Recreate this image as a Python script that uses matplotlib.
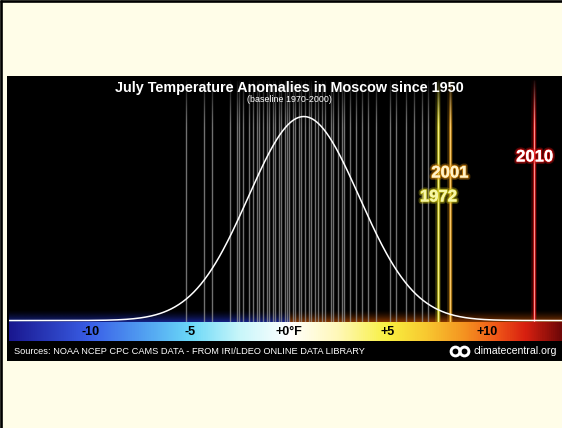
import numpy as np
import matplotlib
matplotlib.use('Agg')
import matplotlib.pyplot as plt
from matplotlib.colors import LinearSegmentedColormap, to_rgb
from matplotlib.patches import Rectangle, Circle
import matplotlib.patheffects as pe

plt.rcParams['font.family'] = ['Liberation Sans', 'DejaVu Sans']

# ---------------- data ----------------
title = "July Temperature Anomalies in Moscow since 1950"
subtitle = "(baseline 1970-2000)"
source = "Sources: NOAA NCEP CPC CAMS DATA - FROM IRI/LDEO ONLINE DATA LIBRARY"
credit = "climatecentral.org"

# yearly July anomalies (deg F), other years
anomalies = [-5.2, -4.3, -3.9, -3.0, -2.6, -2.5, -2.3, -2.0, -1.8, -1.6,
             -1.5, -1.3, -1.1, -1.0, -0.8, -0.7, -0.5, -0.4, -0.2, -0.1,
             0.0, 0.2, 0.3, 0.5, 0.6, 0.8, 1.0, 1.1, 1.3, 1.45,
             1.65, 1.8, 2.1, 2.2, 2.5, 2.7, 2.8, 3.1, 3.4, 3.7,
             4.0, 4.4, 5.1, 5.4, 5.9, 6.3, 6.7, 7.0]

highlight_years = ["1972", "2001", "2010"]
highlight_values = [7.55, 8.12, 12.4]
label_heights = [0.517, 0.616, 0.682]

tick_values = [-10, -5, 0, 5, 10]
tick_labels = ["-10", "-5", "+0°F", "+5", "+10"]

curve_mean = 0.75
curve_sd = 2.8
curve_peak = 0.843

# ---------------- figure ----------------
W, H = 562, 428
fig = plt.figure(figsize=(W / 100, H / 100), dpi=100, facecolor='#fffde8')

# black panel
fig.patches.append(Rectangle((7 / W, 1 - 361 / H), 555 / W, 285 / H,
                             transform=fig.transFigure, facecolor='black',
                             edgecolor='none', zorder=-1))

xmin, xmax = -14.14, 13.79

ax = fig.add_axes([9 / W, 1 - 322 / H, 553 / W, 242 / H])
ax.set_facecolor('none')
ax.set_xlim(xmin, xmax)
ax.set_ylim(0, 1)
ax.axis('off')

# glow above colour bar
gh = 0.05
ny, nx = 40, 400
gx = np.linspace(xmin, xmax, nx)
gy = np.linspace(0, 1, ny)
glow = np.zeros((ny, nx, 4))
blue = np.array(to_rgb('#1a2aa8'))
orng = np.array(to_rgb('#a84400'))
for i in range(nx):
    glow[:, i, :3] = blue if gx[i] < 0 else orng
glow[:, :, 3] = ((1 - gy) ** 1.6 * 0.8)[:, None]
ax.imshow(glow, extent=(xmin, xmax, 0, gh), origin='lower', aspect='auto',
          zorder=1, interpolation='bilinear')

# gray year lines
ax.vlines(anomalies, 0, 1, colors='#a0a0a0', lw=1.0, alpha=0.7, zorder=2)

# highlighted years
hl_glow = ['#d8d020', '#e09a18', '#e01010']
hl_core = ['#f4f080', '#f8c868', '#ff8a8a']
for v, g, c in zip(highlight_values, hl_glow, hl_core):
    ax.vlines([v], 0, 1, colors=g, lw=4.0, alpha=0.25, zorder=2)
    ax.vlines([v], 0, 1, colors=g, lw=2.0, alpha=0.7, zorder=2)
    ax.vlines([v], 0, 1, colors=c, lw=0.8, alpha=1.0, zorder=2)

# fade at top
fy = np.linspace(0, 1, 60)
fade = np.zeros((60, 2, 4))
fade[:, :, 3] = (fy ** 1.3 * 0.95)[:, None]
ax.imshow(fade, extent=(xmin, xmax, 0.80, 1.0), origin='lower', aspect='auto',
          zorder=3, interpolation='bilinear')

# distribution curve
xs = np.linspace(xmin, xmax, 600)
ys = 0.006 + curve_peak * np.exp(-0.5 * ((xs - curve_mean) / curve_sd) ** 2)
ax.plot(xs, ys, color='white', lw=1.1, zorder=5)

# year labels
lab_col = ['#f6f6a8', '#fff2c8', '#ffffff']
lab_str = ['#c8c018', '#d88a10', '#e01010']
for yr, v, h, c, s in zip(highlight_years, highlight_values, label_heights, lab_col, lab_str):
    ax.text(v, h, yr, ha='center', va='center', fontsize=12, fontweight='bold',
            color=c, zorder=6,
            path_effects=[pe.withStroke(linewidth=3.5, foreground=s, alpha=0.35),
                          pe.withStroke(linewidth=1.4, foreground=s, alpha=0.8),
                          pe.Normal()])

# colour bar
cax = fig.add_axes([9 / W, 1 - 341 / H, 553 / W, 19 / H])
cax.set_xlim(xmin, xmax)
cax.set_ylim(0, 1)
cax.axis('off')
stops = [(xmin, '#1a1890'), (-10, '#3a60e8'), (-7, '#55a8f2'), (-5, '#6ad8f8'),
         (-2.5, '#c8f6fa'), (0, '#ffffff'), (2.5, '#fff8b8'), (5, '#f8f040'),
         (7, '#f8c830'), (9, '#f49020'), (10.5, '#f05818'), (12, '#d82010'),
         (xmax, '#700808')]
cmap = LinearSegmentedColormap.from_list(
    'cb', [((v - xmin) / (xmax - xmin), c) for v, c in stops])
grad = np.linspace(0, 1, 800)[None, :]
cax.imshow(grad, cmap=cmap, extent=(xmin, xmax, 0, 1), aspect='auto')
for v, t in zip(tick_values, tick_labels):
    cax.text(v, 0.47, t, ha='center', va='center', fontsize=9,
             fontweight='bold', color='black')

# titles and footer
fig.text(289 / W, 1 - 88 / H, title, ha='center', va='center', fontsize=10.4,
         fontweight='bold', color='white')
fig.text(289 / W, 1 - 100 / H, subtitle, ha='center', va='center',
         fontsize=6.4, color='white')
fig.text(14 / W, 1 - 351.5 / H, source, ha='left', va='center', fontsize=6.7,
         color='white')
fig.text(473 / W, 1 - 351.5 / H, credit, ha='left', va='center', fontsize=7.6,
         color='white')

# overlay: logo + border
ov = fig.add_axes([0, 0, 1, 1])
ov.set_facecolor('none')
ov.set_xlim(0, W)
ov.set_ylim(H, 0)
ov.axis('off')
for cx in (455.5, 464.5):
    ov.add_patch(Circle((cx, 351.5), 4.4, facecolor='none', edgecolor='white',
                        lw=2.1))
ov.plot([1.3, 1.3], [0, H], color='black', lw=1.9, solid_capstyle='butt')
ov.plot([0, W], [1.3, 1.3], color='black', lw=1.9, solid_capstyle='butt')

fig.savefig('out.png', dpi=100, facecolor=fig.get_facecolor())
